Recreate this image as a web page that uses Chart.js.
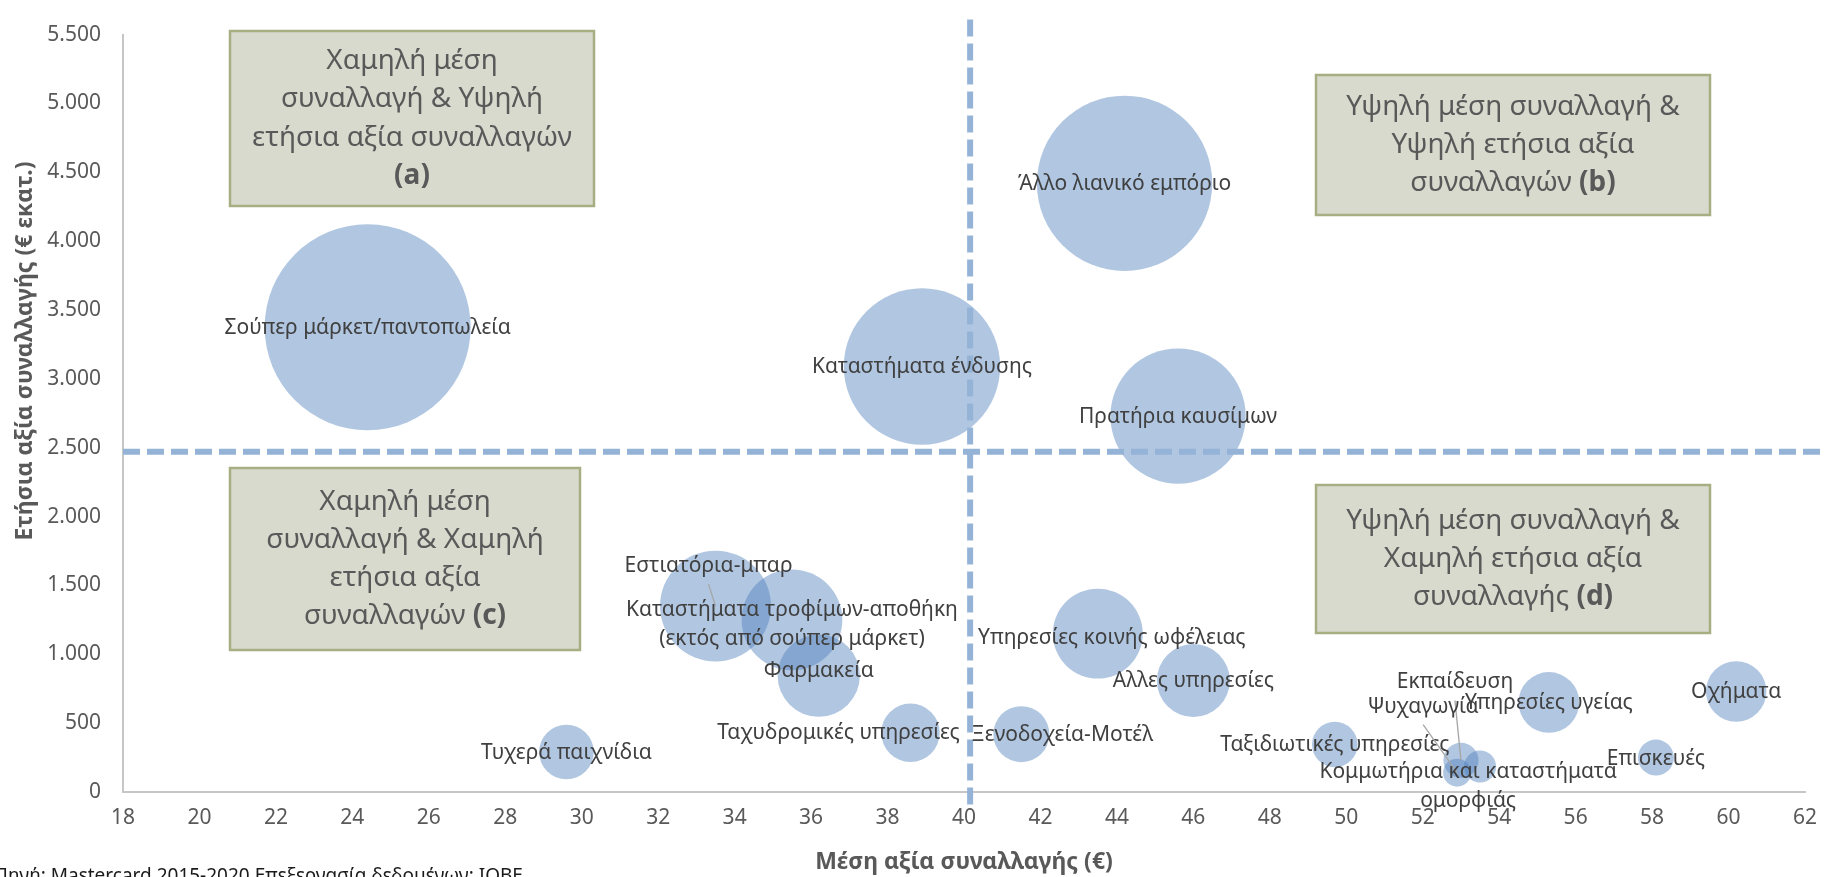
<!DOCTYPE html>
<html>
<head>
<meta charset="utf-8">
<script src="https://cdn.jsdelivr.net/npm/chart.js@4.4.1/dist/chart.umd.min.js"></script>
<style>
  html, body { margin: 0; padding: 0; background: #ffffff; }
  #wrap { width: 1832px; height: 877px; }
</style>
</head>
<body>
<div id="wrap"><canvas id="bubbleChart" width="1832" height="877"></canvas></div>
<script>
// Data
const categories = [
  'Σούπερ μάρκετ/παντοπωλεία',
  'Άλλο λιανικό εμπόριο',
  'Καταστήματα ένδυσης',
  'Πρατήρια καυσίμων',
  'Εστιατόρια-μπαρ',
  'Καταστήματα τροφίμων-αποθήκη\n(εκτός από σούπερ μάρκετ)',
  'Φαρμακεία',
  'Ταχυδρομικές υπηρεσίες',
  'Ξενοδοχεία-Μοτέλ',
  'Τυχερά παιχνίδια',
  'Υπηρεσίες κοινής ωφέλειας',
  'Αλλες υπηρεσίες',
  'Ταξιδιωτικές υπηρεσίες',
  'Υπηρεσίες υγείας',
  'Οχήματα',
  'Επισκευές',
  'Εκπαίδευση',
  'Ψυχαγωγία',
  'Κομμωτήρια και καταστήματα\nομορφιάς',
];
// μέση αξία συναλλαγής (€)
const avgTicket = [24.4, 44.2, 38.9, 45.6, 33.5, 35.5, 36.2, 38.6, 41.5, 29.6, 43.5, 46.0, 49.7, 55.3, 60.2, 58.1, 53.0, 52.9, 53.5];
// ετήσια αξία συναλλαγών (€ εκατ.)
const annualValue = [3375, 4420, 3090, 2730, 1350, 1250, 845, 430, 420, 290, 1150, 810, 345, 650, 730, 250, 230, 140, 185];
// αριθμός συναλλαγών (εκατ.) -> μέγεθος φούσκας
const txCount = [138, 100, 79.5, 59.5, 40, 33, 22, 11.1, 10.2, 9.7, 26.3, 17.3, 6.75, 12, 11.9, 4.2, 4.0, 2.55, 3.35];

const xMin = 18, xMax = 62, xStep = 2;
const yMin = 0, yMax = 5500, yStep = 500;
// διαχωριστικές γραμμές (μέσοι όροι)
const avgLineX = 40.16;
const avgLineY = 2470;

const xTitle = 'Μέση αξία συναλλαγής (€)';
const yTitle = 'Ετήσια αξία συναλλαγής (€ εκατ.)';
const sourceNote = 'Πηγή: Mastercard 2015-2020 Επεξεργασία δεδομένων: ΙΟΒΕ';

const quadrantNotes = [
  [['Χαμηλή μέση'], ['συναλλαγή & Υψηλή'], ['ετήσια αξία συναλλαγών'], ['', '(a)']],
  [['Υψηλή μέση συναλλαγή &'], ['Υψηλή ετήσια αξία'], ['συναλλαγών ', '(b)']],
  [['Χαμηλή μέση'], ['συναλλαγή & Χαμηλή'], ['ετήσια αξία'], ['συναλλαγών ', '(c)']],
  [['Υψηλή μέση συναλλαγή &'], ['Χαμηλή ετήσια αξία'], ['συναλλαγής ', '(d)']],
];

// Layout / styling (pixels)
const FONT = "'Noto Sans', 'DejaVu Sans', sans-serif";
const BUBBLE_COLOR = 'rgba(79, 129, 189, 0.45)';
const GUIDE_COLOR = '#95B3D7';
const AXIS_COLOR = '#C6C6C6';
const TEXT_GREY = '#595959';
const LABEL_COLOR = '#404040';
const MAX_BUBBLE_R = 103; // ακτίνα της μεγαλύτερης φούσκας

// μετατόπιση ετικετών από το κέντρο της φούσκας
const labelShift = {
  4: [-7, -40],
  5: [0, 5],
  6: [0, -5],
  7: [-72, 0],
  8: [41, 1],
  10: [14, 4],
  16: [-6, -78],
  17: [-34, -66],
  18: [-12, 20],
};
const leaderLines = [4, 16, 17];

// πλαίσια τεταρτημορίων: x, y, w, h
const noteBoxes = [
  [230, 31, 364, 175],
  [1316, 75, 394, 140],
  [230, 468, 350, 182],
  [1316, 485, 394, 148],
];

const fmt = (v) => String(v).replace(/\B(?=(\d{3})+(?!\d))/g, '.');

const overlayPlugin = {
  id: 'overlay',
  afterDatasetsDraw(chart) {
    const { ctx } = chart;
    const xs = chart.scales.x;
    const ys = chart.scales.y;

    // διακεκομμένες γραμμές
    ctx.save();
    ctx.strokeStyle = GUIDE_COLOR;
    ctx.lineWidth = 6;
    ctx.setLineDash([17, 7]);
    const gx = xs.getPixelForValue(avgLineX);
    const gy = ys.getPixelForValue(avgLineY);
    ctx.beginPath();
    ctx.moveTo(xs.left, gy);
    ctx.lineTo(chart.width - 5, gy);
    ctx.moveTo(gx, ys.top - 15);
    ctx.lineTo(gx, ys.bottom + 16);
    ctx.stroke();
    ctx.restore();

    // ετικέτες φούσκας
    const meta = chart.getDatasetMeta(0);
    ctx.save();
    ctx.font = '21px ' + FONT;
    ctx.fillStyle = LABEL_COLOR;
    ctx.textAlign = 'center';
    ctx.textBaseline = 'middle';
    const lh = 29.3;
    meta.data.forEach((pt, i) => {
      const sh = labelShift[i] || [0, 1];
      const cx = pt.x + sh[0];
      const cy = pt.y + sh[1];
      const lines = categories[i].split('\n');
      const y0 = cy - (lines.length - 1) * lh / 2;
      lines.forEach((t, k) => ctx.fillText(t, cx, y0 + k * lh));
      if (leaderLines.includes(i)) {
        ctx.save();
        ctx.strokeStyle = '#A6A6A6';
        ctx.lineWidth = 1.3;
        ctx.beginPath();
        ctx.moveTo(cx, cy + 18);
        ctx.lineTo(pt.x, pt.y);
        ctx.stroke();
        ctx.restore();
      }
    });
    ctx.restore();

    // πλαίσια τεταρτημορίων
    ctx.save();
    noteBoxes.forEach((b, n) => {
      ctx.fillStyle = '#D8DACE';
      ctx.fillRect(b[0], b[1], b[2], b[3]);
      ctx.strokeStyle = '#A7AE82';
      ctx.lineWidth = 2.5;
      ctx.strokeRect(b[0], b[1], b[2], b[3]);
      const lines = quadrantNotes[n];
      const bh = 38.3;
      const y0 = b[1] + b[3] / 2 - (lines.length - 1) * bh / 2;
      ctx.textBaseline = 'middle';
      ctx.textAlign = 'left';
      ctx.fillStyle = TEXT_GREY;
      lines.forEach((seg, k) => {
        const normal = seg[0];
        const bold = seg[1] || '';
        ctx.font = '28px ' + FONT;
        const w1 = ctx.measureText(normal).width;
        ctx.font = 'bold 28px ' + FONT;
        const w2 = ctx.measureText(bold).width;
        const sx = b[0] + b[2] / 2 - (w1 + w2) / 2;
        ctx.font = '28px ' + FONT;
        ctx.fillText(normal, sx, y0 + k * bh);
        ctx.font = 'bold 28px ' + FONT;
        ctx.fillText(bold, sx + w1, y0 + k * bh);
      });
    });
    ctx.restore();

    // τίτλοι αξόνων
    ctx.save();
    ctx.fillStyle = TEXT_GREY;
    ctx.font = 'bold 23px ' + FONT;
    ctx.textAlign = 'center';
    ctx.textBaseline = 'middle';
    ctx.fillText(xTitle, (xs.left + xs.right) / 2, 862);
    ctx.translate(25, 351);
    ctx.rotate(-Math.PI / 2);
    ctx.fillText(yTitle, 0, 0);
    ctx.restore();

    // πηγή
    ctx.save();
    ctx.fillStyle = '#1a1a1a';
    ctx.font = '19px ' + FONT;
    ctx.textAlign = 'left';
    ctx.textBaseline = 'alphabetic';
    ctx.fillText(sourceNote, -6, 882);
    ctx.restore();
  },
};

Chart.defaults.font.family = FONT;

// εμβαδόν φούσκας ανάλογο του αριθμού συναλλαγών
const maxTx = Math.max(...txCount);
const points = avgTicket.map((v, i) => ({
  x: v,
  y: annualValue[i],
  r: MAX_BUBBLE_R * Math.sqrt(txCount[i] / maxTx),
}));

const config = {
  type: 'bubble',
  data: {
    datasets: [
      {
        label: 'Κλάδοι',
        data: points,
        backgroundColor: BUBBLE_COLOR,
        borderWidth: 0,
        clip: false,
      },
    ],
  },
  options: {
    responsive: false,
    animation: false,
    layout: { autoPadding: false, padding: { left: 0, top: 23, right: 27, bottom: 0 } },
    plugins: {
      legend: { display: false },
      tooltip: { enabled: false },
    },
    scales: {
      x: {
        type: 'linear',
        min: xMin,
        max: xMax,
        ticks: { stepSize: xStep, color: TEXT_GREY, font: { size: 21 }, padding: 13 },
        grid: { display: false, drawTicks: false },
        border: { color: AXIS_COLOR, width: 2 },
        afterFit: (s) => { s.height = 85; },
      },
      y: {
        type: 'linear',
        min: yMin,
        max: yMax,
        ticks: { stepSize: yStep, color: TEXT_GREY, font: { size: 21 }, padding: 22, callback: (v) => fmt(v) },
        grid: { display: false, drawTicks: false },
        border: { color: AXIS_COLOR, width: 2 },
        afterFit: (s) => { s.width = 123; },
      },
    },
  },
  plugins: [overlayPlugin],
};

const bubbleChartInstance = new Chart(document.getElementById('bubbleChart'), config);
</script>
</body>
</html>
